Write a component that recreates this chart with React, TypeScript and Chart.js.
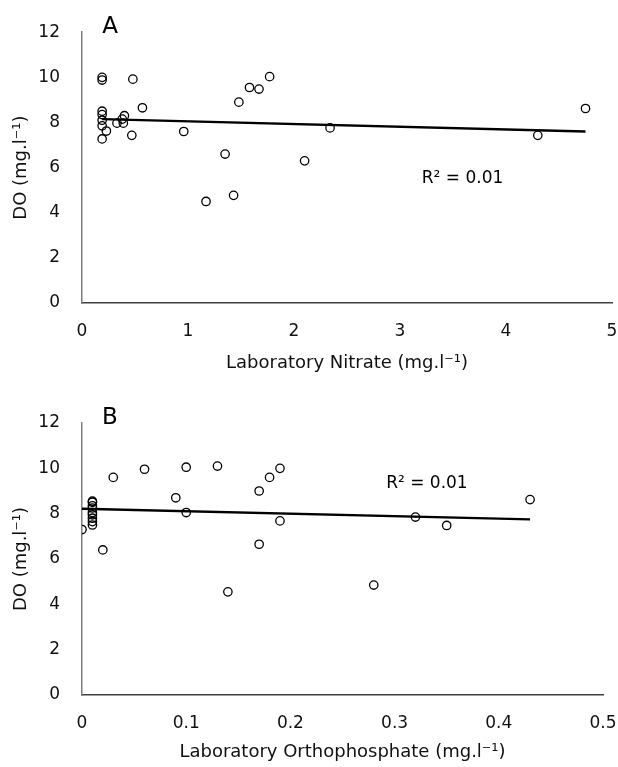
import React, { useEffect, useRef } from "react";
import { Chart, registerables } from "chart.js";

Chart.register(...registerables);

const FONT = "'DejaVu Sans', 'Liberation Sans', Arial, sans-serif";

// Panel A: Laboratory Nitrate vs DO
const nitrateX = [0.19, 0.19, 0.48, 0.19, 0.19, 0.57, 0.4, 0.38, 0.33, 0.39, 0.19, 0.19, 0.23, 0.19, 0.47, 0.96, 1.35, 1.17, 1.43, 1.48, 1.58, 1.67, 1.77, 2.1, 2.34, 4.3, 4.75];
const nitrateDO = [10.0, 9.88, 9.92, 8.5, 8.35, 8.65, 8.3, 8.15, 7.97, 7.97, 8.1, 7.85, 7.62, 7.27, 7.43, 7.6, 6.6, 4.5, 4.77, 8.9, 9.55, 9.48, 10.03, 6.3, 7.76, 7.43, 8.62];
const nitrateTrendX = [0.19, 4.75];
const nitrateTrendDO = [8.15, 7.6];

// Panel B: Laboratory Orthophosphate vs DO
const phosphateX = [0, 0.01, 0.01, 0.01, 0.01, 0.01, 0.01, 0.01, 0.01, 0.01, 0.02, 0.03, 0.06, 0.09, 0.1, 0.1, 0.13, 0.14, 0.17, 0.17, 0.18, 0.19, 0.19, 0.28, 0.32, 0.35, 0.43];
const phosphateDO = [7.3, 8.55, 8.5, 8.35, 8.25, 8.05, 7.95, 7.8, 7.65, 7.5, 6.4, 9.6, 9.96, 8.7, 10.05, 8.05, 10.1, 4.55, 9.0, 6.65, 9.6, 10.0, 7.68, 4.85, 7.85, 7.48, 8.62];
const phosphateTrendX = [0, 0.43];
const phosphateTrendDO = [8.22, 7.75];

const yTitle = "DO (mg.l⁻¹)";
const nitrateTitle = "Laboratory Nitrate (mg.l⁻¹)";
const phosphateTitle = "Laboratory Orthophosphate (mg.l⁻¹)";
const r2Text = "R² = 0.01";
const nitrateR2Pos = [3.59, 5.5];
const phosphateR2Pos = [0.331, 9.34];

const panelTextPlugin = {
  id: "panelText",
  afterDatasetsDraw(chart: any, _args: any, opts: any) {
    const { ctx, chartArea, scales } = chart;
    ctx.save();
    ctx.fillStyle = "#000";
    ctx.textAlign = "center";
    ctx.textBaseline = "middle";
    ctx.font = `23px ${FONT}`;
    ctx.fillText(opts.letter, chartArea.left + 28, chartArea.top - 5);
    ctx.font = `17px ${FONT}`;
    ctx.fillText(
      opts.r2,
      scales.x.getPixelForValue(opts.r2x),
      scales.y.getPixelForValue(opts.r2y)
    );
    ctx.restore();
  },
};

type PanelProps = {
  xs: number[];
  ys: number[];
  tx: number[];
  ty: number[];
  xMax: number;
  xStep: number;
  xTitle: string;
  letter: string;
  r2Pos: number[];
  height: number;
  padTop: number;
  padRight: number;
  xAxisHeight: number;
  xTitlePadBottom: number;
};

function Panel(p: PanelProps) {
  const ref = useRef<HTMLCanvasElement | null>(null);
  useEffect(() => {
    if (!ref.current) return;
    const points = p.xs.map((x, i) => ({ x, y: p.ys[i] }));
    const trend = p.tx.map((x, i) => ({ x, y: p.ty[i] }));
    const chart = new Chart(ref.current, {
      type: "scatter",
      data: {
        datasets: [
          {
            label: "DO",
            data: points,
            pointStyle: "circle",
            pointRadius: 4.2,
            pointBorderWidth: 1.3,
            borderColor: "#000",
            backgroundColor: "rgba(0,0,0,0)",
            pointBackgroundColor: "rgba(0,0,0,0)",
            pointBorderColor: "#000",
          },
          {
            label: "Trend",
            data: trend,
            showLine: true,
            pointRadius: 0,
            borderColor: "#000",
            borderWidth: 2.4,
            fill: false,
          },
        ],
      },
      options: {
        responsive: false,
        animation: false,
        layout: { padding: { top: p.padTop, right: p.padRight, left: 0, bottom: 0 } },
        plugins: {
          legend: { display: false },
          tooltip: { enabled: false },
          panelText: { letter: p.letter, r2: r2Text, r2x: p.r2Pos[0], r2y: p.r2Pos[1] },
        } as any,
        scales: {
          x: {
            type: "linear",
            min: 0,
            max: p.xMax,
            grid: { display: false, drawTicks: false },
            border: { display: true, color: "#404040", width: 1.5 },
            ticks: {
              stepSize: p.xStep,
              autoSkip: false,
              maxRotation: 0,
              padding: 18,
              color: "#111",
              font: { family: FONT, size: 17 },
            },
            title: {
              display: true,
              text: p.xTitle,
              color: "#111",
              font: { family: FONT, size: 18 },
              padding: { top: 0, bottom: p.xTitlePadBottom },
            },
            afterFit: (s: any) => {
              s.height = p.xAxisHeight;
              s.paddingLeft = 0;
              s.paddingRight = 0;
            },
          },
          y: {
            type: "linear",
            min: 0,
            max: 12,
            grid: { display: false, drawTicks: false },
            border: { display: true, color: "#7f7f7f", width: 1.5 },
            ticks: {
              stepSize: 2,
              padding: 22,
              color: "#111",
              font: { family: FONT, size: 17 },
            },
            title: {
              display: true,
              text: yTitle,
              color: "#111",
              font: { family: FONT, size: 18 },
              padding: { top: 11, bottom: 0 },
            },
            afterFit: (s: any) => {
              s.width = 82;
            },
          },
        },
      } as any,
      plugins: [panelTextPlugin as any],
    });
    return () => chart.destroy();
  }, []);
  return (
    <canvas
      ref={ref}
      width={618}
      height={p.height}
      style={{ display: "block", width: 618, height: p.height }}
    />
  );
}

export default function App() {
  return (
    <div style={{ position: "absolute", top: 0, left: 0, width: 618, height: 767, background: "#fff" }}>
      <Panel
        xs={nitrateX}
        ys={nitrateDO}
        tx={nitrateTrendX}
        ty={nitrateTrendDO}
        xMax={5}
        xStep={1}
        xTitle={nitrateTitle}
        letter="A"
        r2Pos={nitrateR2Pos}
        height={383}
        padTop={29}
        padRight={6}
        xAxisHeight={80}
        xTitlePadBottom={9}
      />
      <Panel
        xs={phosphateX}
        ys={phosphateDO}
        tx={phosphateTrendX}
        ty={phosphateTrendDO}
        xMax={0.5}
        xStep={0.1}
        xTitle={phosphateTitle}
        letter="B"
        r2Pos={phosphateR2Pos}
        height={384}
        padTop={40}
        padRight={15}
        xAxisHeight={72}
        xTitlePadBottom={4}
      />
    </div>
  );
}
